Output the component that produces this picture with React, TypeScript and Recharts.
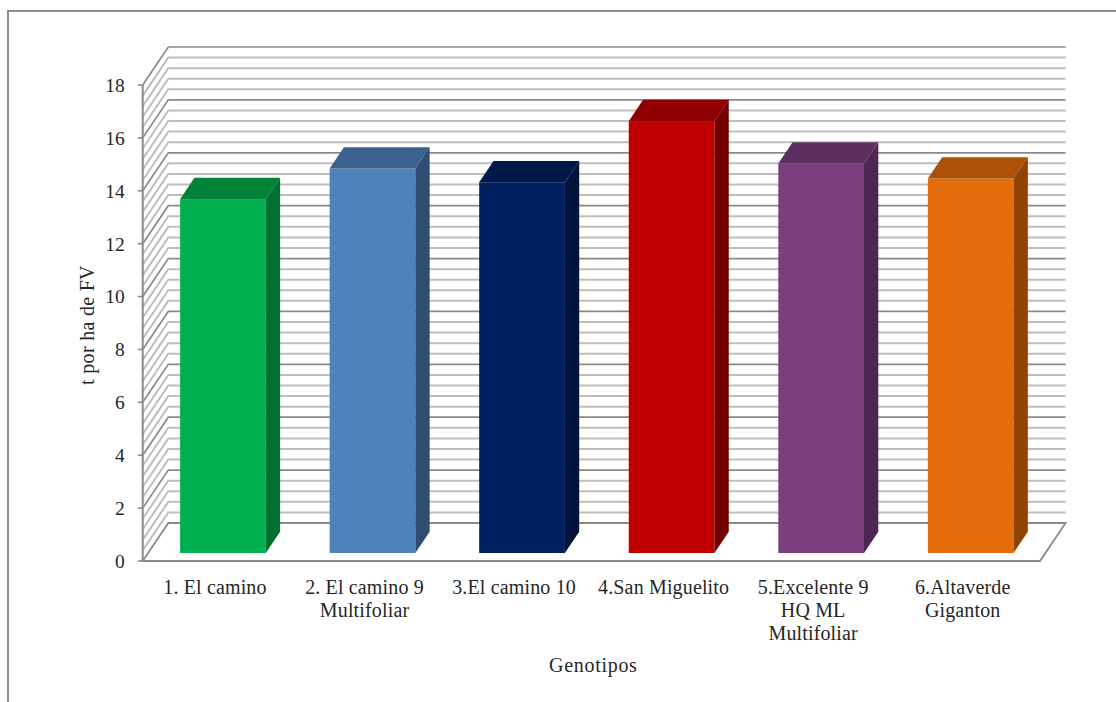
import React from 'react'
import { BarChart, Bar, XAxis, YAxis, ReferenceLine, Label } from 'recharts'

const genotipos = ['1. El camino', '2. El camino 9 Multifoliar', '3.El camino 10', '4.San Miguelito', '5.Excelente 9 HQ ML Multifoliar', '6.Altaverde Giganton']
const tickLines = [['1. El camino'], ['2. El camino 9', 'Multifoliar'], ['3.El camino 10'], ['4.San Miguelito'], ['5.Excelente 9', 'HQ ML', 'Multifoliar'], ['6.Altaverde', 'Giganton']]
const rendimiento = [13.38, 14.54, 14.02, 16.33, 14.73, 14.16]
const yTicks = [0, 2, 4, 6, 8, 10, 12, 14, 16, 18]
const gridValues = [0.4, 0.8, 1.2, 1.6, 2, 2.4, 2.8, 3.2, 3.6, 4, 4.4, 4.8, 5.2, 5.6, 6, 6.4, 6.8, 7.2, 7.6, 8, 8.4, 8.8, 9.2, 9.6, 10, 10.4, 10.8, 11.2, 11.6, 12, 12.4, 12.8, 13.2, 13.6, 14, 14.4, 14.8, 15.2, 15.6, 16, 16.4, 16.8, 17.2, 17.6, 18]

// front, top and side face of each box
const frontColors = ['#00B050', '#4F81BD', '#002060', '#C00000', '#7B3F80', '#E46C0A']
const topColors = ['#008339', '#3B618E', '#001848', '#900000', '#5C2F60', '#AB5108']
const sideColors = ['#007030', '#2F4D71', '#00133A', '#730000', '#4D2751', '#8F4406']

const data = genotipos.map((name, i) => ({ name, value: rendimiento[i] }))

const FONT = '"Liberation Serif", serif'
const TEXT = '#262626'
const MAJOR = '#8a8a8a'
const MINOR = '#bebebe'

// wall depth of the 3D plot, and where the boxes sit inside it
const WALL_DX = 25.6
const WALL_DY = -38
const BAR_DX = 14.3
const BAR_DY = -21.3
const BAR_OFFSET_X = 5.4
const BAR_OFFSET_Y = -8

const Box = (props: any) => {
  const { x, y, width, height, index } = props
  const l = x + BAR_OFFSET_X
  const r = l + width
  const t = y + BAR_OFFSET_Y
  const b = t + height
  return (
    <g>
      <rect x={l} y={t} width={width} height={height} fill={frontColors[index]} />
      <polygon points={`${l},${t} ${r},${t} ${r + BAR_DX},${t + BAR_DY} ${l + BAR_DX},${t + BAR_DY}`} fill={topColors[index]} />
      <polygon points={`${r},${t} ${r + BAR_DX},${t + BAR_DY} ${r + BAR_DX},${b + BAR_DY} ${r},${b}`} fill={sideColors[index]} />
    </g>
  )
}

// one step of the left wall and the back wall
const WallLine = (props: any) => {
  const { x1, y1, x2, major } = props
  const stroke = major ? MAJOR : MINOR
  return (
    <polyline
      points={`${x1},${y1} ${x1 + WALL_DX},${y1 + WALL_DY} ${x2 + WALL_DX},${y1 + WALL_DY}`}
      fill="none"
      stroke={stroke}
      strokeWidth={major ? 1.7 : 2}
    />
  )
}

const Floor = (props: any) => {
  const { x1, y1, x2 } = props
  return (
    <polygon
      points={`${x1},${y1} ${x2},${y1} ${x2 + WALL_DX},${y1 + WALL_DY} ${x1 + WALL_DX},${y1 + WALL_DY}`}
      fill="#fff"
      stroke={MAJOR}
      strokeWidth={1.8}
    />
  )
}

const CategoryTick = (props: any) => {
  const { x, y, index } = props
  return (
    <text x={x - 2.5} y={y} textAnchor="middle" fontFamily={FONT} fontSize={20} letterSpacing={0.15} fill={TEXT}>
      {tickLines[index].map((line, i) => (
        <tspan key={line} x={x - 2.5} dy={i === 0 ? 24.5 : 23.2}>{line}</tspan>
      ))}
    </text>
  )
}

export default function App() {
  return (
    <div style={{ position: 'absolute', left: 0, top: 0, width: 1116, height: 702, background: '#fff', overflow: 'hidden' }}>
      {/* chart frame runs off the right and bottom edges */}
      <div style={{ position: 'absolute', left: 7, top: 10, width: 1200, height: 800, borderLeft: '2px solid #8f8f8f', borderTop: '2px solid #8f8f8f' }} />
      <div style={{ position: 'absolute', left: 0, top: 0 }}>
        <BarChart width={1116} height={702} data={data} margin={{ top: 85, right: 76, bottom: 0, left: 82.7 }}>
          <XAxis
            dataKey="name"
            height={141}
            interval={0}
            tick={<CategoryTick />}
            tickLine={false}
            axisLine={{ stroke: MAJOR, strokeWidth: 2 }}
          >
            <Label value="Genotipos" position="insideBottom" offset={30} dx={2} fontFamily={FONT} fontSize={20} letterSpacing={0.7} fill={TEXT} />
          </XAxis>
          <YAxis
            width={60}
            domain={[0, 18]}
            ticks={yTicks}
            interval={0}
            tick={{ fill: TEXT, fontFamily: FONT, fontSize: 19.5 }}
            tickSize={5}
            tickMargin={13}
            tickLine={{ stroke: MAJOR, strokeWidth: 1.6 }}
            axisLine={{ stroke: MAJOR, strokeWidth: 2 }}
          >
            <Label
              content={() => (
                <text transform="translate(94 325) rotate(-90)" textAnchor="middle" fontFamily={FONT} fontSize={20} letterSpacing={0.3} fill={TEXT}>t por ha de FV</text>
              )}
            />
          </YAxis>
          <ReferenceLine y={0} shape={<Floor />} zIndex={-100} />
          {gridValues.map(v => (
            <ReferenceLine key={v} y={v} shape={<WallLine major={yTicks.includes(v)} />} zIndex={-100} />
          ))}
          <Bar dataKey="value" barSize={85.7} shape={<Box />} isAnimationActive={false} />
        </BarChart>
      </div>
    </div>
  )
}
